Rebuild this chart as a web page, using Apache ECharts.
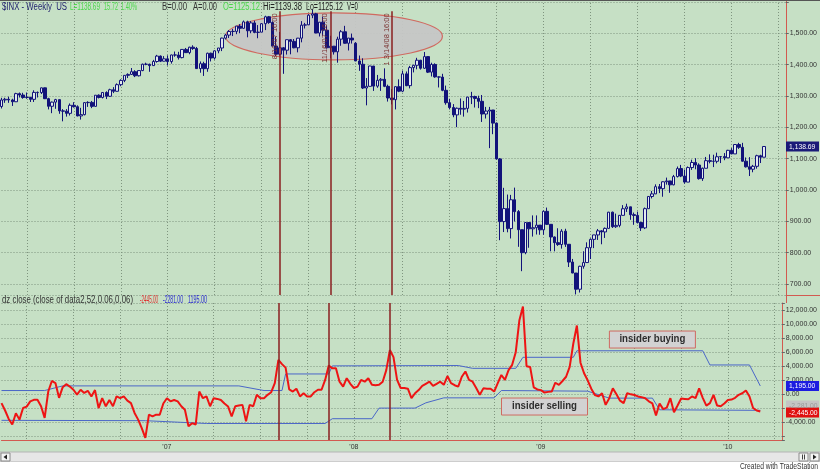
<!DOCTYPE html>
<html>
<head>
<meta charset="utf-8">
<title>$INX Weekly - insider dz</title>
<script src="https://cdn.jsdelivr.net/npm/echarts@6/dist/echarts.min.js"></script>
<style>
  html, body { margin: 0; padding: 0; background: #ffffff; }
  #chart { width: 820px; height: 471px; }
</style>
</head>
<body>
<div id="chart"></div>
<script>
// first bar = week ending 2006-02-17, one bar per week
const firstWeek = Date.UTC(2006, 1, 17);
const blankWeeks = 6; // empty room right of the last bar

// weekly bars, [open, close, low, high]
const bars2006 = [
  [1266.3,1287.2,1260.0,1294.0],[1287.2,1289.4,1278.0,1294.0],[1289.4,1287.2,1278.0,1297.6],[1287.2,1281.4,1268.0,1291.0],
  [1281.4,1307.3,1281.0,1310.0],[1307.3,1302.9,1295.0,1310.9],[1302.9,1294.9,1291.0,1310.0],[1294.9,1295.5,1291.0,1310.9],
  [1295.5,1289.1,1280.7,1297.0],[1289.1,1311.3,1280.7,1318.0],[1311.3,1310.6,1295.0,1314.0],[1310.6,1325.8,1306.0,1326.7],
  [1325.8,1291.2,1290.0,1326.7],[1291.2,1267.0,1257.0,1294.0],[1267.0,1280.2,1245.0,1282.0],[1280.2,1288.2,1259.0,1290.7],
  [1288.2,1252.3,1243.0,1288.0],[1252.3,1251.5,1219.0,1258.0],[1251.5,1244.5,1234.0,1258.0],[1244.5,1270.2,1237.6,1276.0],
  [1270.2,1265.5,1263.0,1280.0],[1265.5,1236.2,1235.0,1270.0],[1236.2,1240.3,1224.5,1262.0],[1240.3,1278.6,1238.0,1280.0],
  [1278.6,1279.4,1265.0,1283.0],[1279.4,1266.7,1261.0,1284.0],[1266.7,1302.3,1266.0,1302.3],[1302.3,1295.1,1292.0,1305.0],
  [1295.1,1311.0,1292.0,1312.0],[1311.0,1298.9,1290.0,1314.7],[1298.9,1319.7,1297.0,1323.0],[1319.7,1314.8,1309.0,1328.0],
  [1314.8,1335.9,1314.0,1340.0],[1335.9,1349.6,1331.0,1353.0],[1349.6,1365.6,1344.0,1366.0],[1365.6,1368.6,1357.0,1372.0],
  [1368.6,1377.3,1367.0,1389.0],[1377.3,1364.3,1360.0,1382.0],[1364.3,1380.9,1362.0,1381.0],[1380.9,1401.2,1379.0,1403.0],
  [1401.2,1400.9,1398.0,1406.0],[1400.9,1396.7,1377.0,1403.0],[1396.7,1409.8,1396.0,1415.0],[1409.8,1427.1,1406.0,1431.0],
  [1427.1,1410.8,1408.0,1429.0],[1410.8,1418.3,1410.0,1427.0]
];
const bars2007 = [
  [1418.3,1409.7,1397.0,1429.4],[1409.7,1430.7,1403.0,1431.6],[1430.7,1430.5,1425.0,1441.6],[1430.5,1422.2,1416.0,1440.7],
  [1422.2,1448.4,1420.0,1449.3],[1448.4,1438.1,1437.0,1453.0],[1438.1,1455.5,1433.0,1456.8],[1455.5,1451.2,1447.0,1461.6],
  [1451.2,1387.2,1386.0,1456.2],[1387.2,1402.8,1374.0,1410.0],[1402.8,1386.9,1363.8,1409.0],[1386.9,1436.1,1377.0,1438.0],
  [1436.1,1420.9,1410.0,1438.0],[1420.9,1443.8,1416.0,1445.4],[1443.8,1452.9,1436.0,1453.0],[1452.9,1484.4,1443.0,1485.8],
  [1484.4,1494.1,1480.0,1498.0],[1494.1,1505.6,1485.0,1510.0],[1505.6,1505.9,1491.0,1513.8],[1505.9,1522.8,1497.0,1522.8],
  [1522.8,1515.7,1500.0,1529.0],[1515.7,1536.3,1515.0,1540.6],[1536.3,1507.7,1487.0,1540.0],[1507.7,1532.9,1500.0,1538.7],
  [1532.9,1502.6,1500.0,1540.0],[1502.6,1503.4,1484.0,1526.0],[1503.4,1530.4,1503.0,1532.4],[1530.4,1552.5,1510.0,1555.9],
  [1552.5,1534.1,1530.0,1555.1],[1534.1,1458.9,1458.0,1538.0],[1458.9,1433.1,1427.0,1488.0],[1433.1,1453.6,1429.0,1503.9],
  [1453.6,1445.9,1370.6,1456.0],[1445.9,1479.4,1432.0,1480.0],[1479.4,1474.0,1432.8,1481.5],[1474.0,1453.6,1452.0,1481.5],
  [1453.6,1484.3,1439.0,1485.0],[1484.3,1525.8,1471.0,1538.7],[1525.8,1526.8,1515.0,1533.0],[1526.8,1557.6,1526.0,1561.0],
  [1557.6,1561.8,1548.0,1576.1],[1561.8,1500.6,1500.0,1565.0],[1500.6,1535.3,1489.6,1535.5],[1535.3,1509.7,1492.0,1552.8],
  [1509.7,1453.7,1451.0,1524.8],[1453.7,1458.7,1420.0,1492.0],[1458.7,1440.7,1432.0,1459.0],[1440.7,1481.1,1406.0,1488.9],
  [1481.1,1504.7,1460.0,1510.0],[1504.7,1468.0,1467.0,1523.6],[1468.0,1484.5,1445.0,1485.0],[1484.5,1478.5,1467.0,1498.9]
];
const bars2008 = [
  [1468.0,1411.6,1411.0,1471.8],[1411.6,1401.0,1380.0,1429.0],[1401.0,1325.2,1322.0,1420.0],[1325.2,1330.6,1270.0,1357.0],
  [1330.6,1395.4,1330.0,1396.0],[1395.4,1331.3,1316.0,1395.0],[1331.3,1350.0,1326.0,1367.0],[1350.0,1353.1,1316.0,1357.0],
  [1353.1,1330.6,1328.0,1388.0],[1330.6,1293.4,1282.0,1336.0],[1293.4,1288.1,1273.0,1321.7],[1288.1,1329.5,1257.0,1330.7],
  [1329.5,1315.2,1312.0,1353.0],[1315.2,1370.4,1312.0,1380.9],[1370.4,1332.8,1331.0,1378.0],[1332.8,1390.3,1324.0,1395.9],
  [1390.3,1397.8,1375.0,1399.0],[1397.8,1413.9,1385.0,1421.6],[1413.9,1388.3,1384.0,1415.0],[1388.3,1425.4,1386.0,1440.2],
  [1425.4,1375.9,1373.0,1426.0],[1375.9,1400.4,1362.0,1406.0],[1400.4,1360.7,1358.0,1404.0],[1360.7,1360.0,1327.0,1362.0],
  [1360.0,1317.9,1315.0,1370.6],[1317.9,1278.4,1272.0,1333.0],[1278.4,1262.9,1257.0,1291.0],[1262.9,1239.5,1232.0,1274.0],
  [1239.5,1260.7,1200.4,1263.0],[1260.7,1257.8,1240.0,1292.0],[1257.8,1260.3,1234.0,1284.0],[1260.3,1296.3,1247.0,1297.0],
  [1296.3,1298.2,1274.0,1313.0],[1298.2,1292.2,1263.0,1300.7],[1292.2,1282.8,1261.0,1300.7],[1282.8,1242.3,1217.0,1303.0],
  [1242.3,1251.7,1228.0,1265.0],[1251.7,1255.1,1133.5,1265.0],[1255.1,1213.3,1178.0,1255.0],[1213.3,1099.2,1097.0,1215.0],
  [1099.2,899.2,839.8,1102.0],[899.2,940.6,865.8,1006.9],[940.6,876.8,865.0,985.4],[876.8,968.8,845.3,984.4],
  [968.8,931.0,899.7,1007.5],[931.0,873.3,818.7,936.0],[873.3,800.0,741.0,873.3],[800.0,896.2,795.0,896.2],
  [896.2,876.1,815.7,896.2],[876.1,879.7,851.4,918.9],[879.7,887.9,857.9,918.9],[887.9,872.8,857.1,887.9]
];
const bars2009 = [
  [872.8,931.8,857.0,934.7],[931.8,890.4,888.3,943.9],[890.4,850.1,804.5,890.4],[850.1,832.0,804.3,851.6],
  [832.0,825.9,821.7,877.9],[825.9,868.6,812.9,875.0],[868.6,826.8,818.4,876.3],[826.8,770.1,754.3,826.8],
  [770.1,735.1,734.5,780.0],[735.1,683.4,666.8,735.1],[683.4,756.6,672.9,758.3],[756.6,768.5,749.0,804.5],
  [768.5,815.9,768.5,833.0],[815.9,842.5,779.8,845.6],[842.5,856.6,814.5,856.9],[856.6,869.6,840.6,875.6],
  [869.6,866.2,826.8,871.8],[866.2,877.5,847.0,880.4],[877.5,929.2,876.7,930.2],[929.2,882.9,878.9,931.0],
  [882.9,887.0,879.0,924.6],[887.0,919.1,881.0,920.0],[919.1,940.1,919.0,951.7],[940.1,946.2,930.0,956.2],
  [946.2,921.2,904.8,946.3],[921.2,918.9,888.9,928.0],[918.9,896.4,893.0,931.0],[896.4,879.1,869.3,898.7],
  [879.1,940.4,875.3,944.0],[940.4,979.3,940.0,979.8],[979.3,987.5,973.0,996.7],[987.5,1010.5,987.0,1018.0],
  [1010.5,1004.1,990.0,1019.0],[1004.1,1026.1,978.5,1027.6],[1026.1,1028.9,1017.0,1039.5],[1028.9,1016.4,991.0,1028.0],
  [1016.4,1042.7,1015.0,1048.0],[1042.7,1068.3,1040.0,1074.8],[1068.3,1044.4,1041.0,1080.0],[1044.4,1025.2,1020.0,1065.0],
  [1025.2,1071.5,1025.0,1075.0],[1071.5,1087.7,1064.0,1096.6],[1087.7,1079.6,1066.0,1101.4],[1079.6,1036.2,1033.0,1085.0],
  [1036.2,1069.3,1029.0,1071.5],[1069.3,1093.5,1069.0,1105.4],[1093.5,1091.4,1085.0,1113.7],[1091.4,1091.5,1073.0,1112.4],
  [1091.5,1106.0,1085.0,1119.1],[1106.0,1106.4,1085.9,1106.9],[1106.4,1102.5,1095.0,1117.7],[1102.5,1126.5,1102.0,1128.0],
  [1126.5,1115.1,1114.0,1133.5]
];
const bars2010 = [
  [1115.1,1145.0,1115.0,1145.4],[1145.0,1136.0,1131.0,1150.4],[1136.0,1091.8,1090.2,1150.4],[1091.8,1073.9,1071.6,1103.7],
  [1073.9,1066.2,1044.5,1104.7],[1066.2,1075.5,1056.5,1080.0],[1075.5,1109.2,1068.0,1112.4],[1109.2,1104.5,1086.0,1112.4],
  [1104.5,1138.69,1104.4,1139.4]
];

// dz close (close of data2,52,0.06,0.06), one value per week
const insiderDz = [
  -1250,-2300,-3500,-4300,-2700,-3600,-1950,-1750,-1000,-780,
  -780,-1700,-3350,400,1900,1600,-500,1000,1450,1100,
  650,-50,650,200,500,-300,600,-1950,-550,-1700,
  -800,-1700,-300,-550,-300,-900,-1250,-2650,-3600,-4800,
  -6200,-2900,-3150,-2900,-2900,-1300,-550,-1000,-800,-1000,
  -1700,-2200,-4550,-4100,-4300,400,-550,-300,-1700,-550,
  -650,-800,-1300,-1720,-3150,-1700,-1600,-1500,-3850,-1500,
  -1700,-70,-550,-550,-70,300,1600,4900,4300,3800,
  700,400,800,-300,150,-300,-300,300,650,650,
  2050,4100,3700,3700,1800,1100,2300,1500,900,1100,
  2050,1800,2300,1350,1300,1350,1800,3450,6300,5300,
  2050,900,900,800,-550,150,600,1200,1500,1800,
  1200,1500,1800,1350,2600,1600,1300,1100,2500,3250,
  2050,1800,900,-70,850,800,800,400,1600,2750,
  2050,3450,4200,6000,10500,12500,4000,3900,1000,700,
  600,250,350,400,1650,1350,1900,2500,3900,7200,
  9800,4500,3000,2000,800,-100,-300,150,-1500,-550,
  850,0,-900,-1250,170,0,-100,-300,-400,-550,
  -1000,-1300,-3000,-1300,-2100,-1900,-550,-2550,-1600,-600,
  -650,-700,-300,-550,850,-500,-1600,-1250,-70,-1600,
  -1700,-1300,-800,-750,-500,-70,150,550,-300,-1950,
  -2300,-2445
];
// the two bands, [week index, value] at each break
const upperBand = [
  [0,540],[12,540],[17,1200],[66,1200],[73,540],[78,540],[79,2900],[91,2900],[92,4050],
  [127,4100],[131,3700],[143,3700],[145,5270],[159,5270],[160,6200],[195,6200],[197,4180],
  [208,4180],[211,1195]
];
const lowerBand = [
  [0,-3700],[40,-3750],[57,-4150],[90,-4150],[92,-3470],[103,-3470],[105,-1960],[115,-1960],
  [118,-1210],[123,-500],[137,-500],[139,540],[163,450],[169,-540],[181,-540],[183,-2200],
  [211,-2281]
];

const yearTickIdx = [46, 98, 150, 202];
const yearTickText = ["'07", "'08", "'09", "'10"];
const quarterIdx = [7, 20, 33, 46, 59, 72, 85, 98, 111, 124, 137, 150, 163, 176, 189, 202, 215];
const signalIdx = [77, 91, 108];
const signalText = ['8/10/07 16:00', '11/16/07 16:00', '1 3/14/08 16:00'];

const weeks = [];
const priceBars = [].concat(bars2006, bars2007, bars2008, bars2009, bars2010);
for (let i = 0; i < priceBars.length + blankWeeks; i++) {
  weeks.push(new Date(firstWeek + i * 7 * 864e5).toISOString().slice(0, 10));
}

const FONT = 'Liberation Sans';
const GRID_GREEN = '#c6e0c5';
const AXIS_RED = '#d25a50';
const money = v => v.toLocaleString('en-US', { minimumFractionDigits: 2, maximumFractionDigits: 2 });
const dotted = { lineStyle: { type: [1, 2], color: '#7f957f', width: 1 } };

const chart = echarts.init(document.getElementById('chart'));

const option = {
  animation: false,
  backgroundColor: GRID_GREEN,
  grid: [
    { left: 1.5, right: 34, top: 0, height: 295 },
    { left: 1.5, right: 34, top: 303, height: 137 }
  ],
  xAxis: [
    {
      gridIndex: 0, type: 'category', data: weeks, boundaryGap: false,
      axisLine: { show: false }, axisTick: { show: false }, axisLabel: { show: false },
      splitLine: Object.assign({ show: true, interval: (i) => quarterIdx.includes(i) }, dotted)
    },
    {
      gridIndex: 1, type: 'category', data: weeks, boundaryGap: false,
      axisLine: { show: true, onZero: false, lineStyle: { color: AXIS_RED, width: 1 } },
      axisTick: { show: false },
      axisLabel: {
        interval: (i) => yearTickIdx.includes(i),
        formatter: (v, i) => yearTickText[yearTickIdx.indexOf(i)] || '',
        fontSize: 7, color: '#333', fontFamily: FONT, margin: 4
      },
      splitLine: Object.assign({ show: true, interval: (i) => quarterIdx.includes(i) }, dotted)
    }
  ],
  yAxis: [
    {
      gridIndex: 0, type: 'value', position: 'right', min: 665, max: 1606, splitNumber: 9,
      axisLine: { show: true, lineStyle: { color: AXIS_RED, width: 1 } },
      axisTick: { show: true, length: 3, lineStyle: { color: '#666' } },
      axisLabel: {
        fontSize: 7, color: '#333', fontFamily: FONT, margin: 4,
        formatter: v => (v % 100 === 0 && v >= 700 && v <= 1500) ? money(v) : ''
      },
      splitLine: Object.assign({ show: true }, dotted)
    },
    {
      gridIndex: 1, type: 'value', position: 'right', min: -6500, max: 13000, splitNumber: 10,
      axisLine: { show: true, lineStyle: { color: AXIS_RED, width: 1 } },
      axisTick: { show: true, length: 3, lineStyle: { color: '#666' } },
      axisLabel: {
        fontSize: 7, color: '#333', fontFamily: FONT, margin: 4,
        formatter: v => (v % 2000 === 0 && v >= -4000) ? money(v) : ''
      },
      splitLine: Object.assign({ show: true }, dotted)
    }
  ],
  series: [
    {
      name: '$INX', type: 'candlestick', xAxisIndex: 0, yAxisIndex: 0,
      data: priceBars, barWidth: 3,
      itemStyle: { color: '#e2eaee', color0: '#12127a', borderColor: '#12127a', borderColor0: '#12127a', borderWidth: 1 },
      markLine: {
        silent: true, symbol: 'none', label: { show: false },
        lineStyle: { color: '#8a1f1f', width: 1.5, type: 'solid' },
        data: signalIdx.map(i => [{ coord: [i, 1570] }, { coord: [i, 665] }])
      }
    },
    {
      name: 'upper', type: 'line', xAxisIndex: 1, yAxisIndex: 1, data: upperBand,
      showSymbol: false, lineStyle: { color: '#4a66c8', width: 1 }, z: 3
    },
    {
      name: 'lower', type: 'line', xAxisIndex: 1, yAxisIndex: 1, data: lowerBand,
      showSymbol: false, lineStyle: { color: '#4a66c8', width: 1 }, z: 3
    },
    {
      name: 'dz', type: 'line', xAxisIndex: 1, yAxisIndex: 1, data: insiderDz,
      showSymbol: false, lineStyle: { color: '#ee1414', width: 2 }, z: 4,
      markLine: {
        silent: true, symbol: 'none', label: { show: false },
        lineStyle: { color: '#8a1f1f', width: 1.5, type: 'solid' },
        data: signalIdx.map(i => ({ xAxis: i }))
      }
    }
  ]
};
chart.setOption(option);

// ---- overlays: header texts, ellipse, value boxes, notes, scrollbar ----
const pxTop = (i, v) => chart.convertToPixel({ gridIndex: 0 }, [i, v]);
const pxLow = (i, v) => chart.convertToPixel({ gridIndex: 1 }, [i, v]);

const measureCtx = document.createElement('canvas').getContext('2d');
function textWidth(text, fs, fw) {
  measureCtx.font = (fw || 'normal') + ' ' + fs + 'px "' + FONT + '"';
  return measureCtx.measureText(text).width;
}
function txt(x, y, text, fill, o) {
  o = o || {};
  return {
    type: 'text', x: x, y: y, z: 100, silent: true, rotation: o.rot || 0,
    scaleX: o.sx == null ? 1 : o.sx,
    style: {
      text: text, fill: fill, fontSize: o.fs || 9.5, fontFamily: FONT, fontWeight: o.fw || 'normal',
      align: o.align || 'left', verticalAlign: o.va || 'middle'
    }
  };
}
// text squeezed to run from x0 to x1, like the narrow screen font of the original
function fitTxt(x0, x1, y, text, fill, fs, fw) {
  const w = textWidth(text, fs, fw);
  return txt(x0, y, text, fill, { fs: fs, fw: fw, sx: Math.min(1, (x1 - x0) / w) });
}
function box(x, y, w, h, fill, stroke, z) {
  return { type: 'rect', z: z || 99, silent: true, shape: { x: x, y: y, width: w, height: h },
    style: { fill: fill, stroke: stroke || null, lineWidth: 1 } };
}

const g = [];
// top header
[
  ['$INX - Weekly  US', 2, 67, '#22226e'], ['L=1138.69', 70, 100, '#4cd64c'], ['15.72', 104, 118, '#4cd64c'],
  ['1.40%', 121, 137, '#4cd64c'], ['B=0.00', 162, 187, '#333'], ['A=0.00', 193, 217, '#333'],
  ['O=1125.12', 223, 260, '#4cd64c'], ['Hi=1139.38', 263, 302, '#222'], ['Lo=1125.12', 306, 343, '#222'],
  ['V=0', 347, 358, '#222']
].forEach(p => g.push(fitTxt(p[1], p[2], 7.5, p[0], p[3], 10)));
g.push({ type: 'line', z: 100, silent: true, shape: { x1: 0, y1: 0.5, x2: 820, y2: 0.5 }, style: { stroke: '#555', lineWidth: 1 } });

// lower pane header
const lastDz = insiderDz[insiderDz.length - 1];
const lastLow = lowerBand[lowerBand.length - 1][1];
const lastUp = upperBand[upperBand.length - 1][1];
g.push(fitTxt(2, 133, 300, 'dz close (close of data2,52,0.06,0.06)', '#333', 10));
g.push(fitTxt(140, 158, 300, lastDz.toFixed(2), '#e03030', 10));
g.push(fitTxt(163, 183, 300, lastLow.toFixed(2), '#2a2ad0', 10));
g.push(fitTxt(188, 207, 300, lastUp.toFixed(2), '#2a2ad0', 10));

// ellipse round the 2007 top
const eA = pxTop(62, 1565), eB = pxTop(122, 1415);
g.push({
  type: 'ellipse', z: 1, silent: true,
  shape: { cx: (eA[0] + eB[0]) / 2, cy: (eA[1] + eB[1]) / 2, rx: (eB[0] - eA[0]) / 2, ry: (eB[1] - eA[1]) / 2 },
  style: { fill: 'rgba(198,198,198,0.95)', stroke: '#d06a60', lineWidth: 1.2 }
});

// rotated date notes beside the signal lines
signalIdx.forEach((i, k) => {
  const p = pxTop(i, 1570);
  g.push(txt(p[0] - 1, p[1] + 2, signalText[k], '#7a3030', { rot: Math.PI / 2, align: 'right', va: 'bottom', fs: 7.5, sx: 1 }));
});

// right axis value boxes
const lastClose = priceBars[priceBars.length - 1][1];
const pc = pxTop(0, lastClose)[1];
g.push(box(786, pc - 5, 33, 10, '#1a1a78'));
g.push(txt(789, pc, money(lastClose), '#ffffff', { fs: 7.5, sx: 0.9 }));
const pu = pxLow(0, lastUp)[1];
g.push(box(786, pu - 5, 33, 10, '#1c1ce0'));
g.push(txt(789, pu, money(lastUp), '#ffffff', { fs: 7.5, sx: 0.9 }));
const pd = pxLow(0, lastDz)[1];
g.push(box(786, pd - 11, 33, 10, '#c4c4c4'));
g.push(txt(789, pd - 6, money(lastLow), '#9a9a9a', { fs: 7.5, sx: 0.9 }));
g.push(box(786, pd - 4, 33, 10, '#e01010'));
g.push(txt(789, pd + 1, money(lastDz), '#ffffff', { fs: 7.5, sx: 0.9 }));

// note boxes
const nb = pxLow(181, 7800), ns = pxLow(151, -1735);
g.push(box(nb[0] - 43, nb[1] - 8.5, 86, 17, '#d2d2d2', '#cf6a62'));
g.push(txt(nb[0], nb[1], 'insider buying', '#2e2e2e', { fw: 'bold', fs: 10.5, sx: 0.92, align: 'center' }));
g.push(box(ns[0] - 43, ns[1] - 8.5, 86, 17, '#d2d2d2', '#cf6a62'));
g.push(txt(ns[0], ns[1], 'insider selling', '#2e2e2e', { fw: 'bold', fs: 10.5, sx: 0.92, align: 'center' }));

// pane joint on the price scale
g.push({ type: 'line', z: 100, silent: true, shape: { x1: 786, y1: 295.5, x2: 820, y2: 295.5 }, style: { stroke: AXIS_RED, lineWidth: 1 } });
g.push({ type: 'line', z: 100, silent: true, shape: { x1: 786.5, y1: 295, x2: 786.5, y2: 303 }, style: { stroke: AXIS_RED, lineWidth: 1 } });

// scrollbar and footer
g.push(box(0, 452, 820, 10, '#e6e6e6', '#b4b4b4', 90));
g.push(box(0, 462, 820, 9, '#ffffff', null, 90));
g.push(box(1, 453, 9, 8, '#f4f4f4', '#8a8a8a'));
g.push({ type: 'polygon', z: 101, silent: true, shape: { points: [[7, 454.5], [7, 459.5], [3.5, 457]] }, style: { fill: '#222' } });
g.push(box(799, 453, 9, 8, '#f4f4f4', '#8a8a8a'));
g.push({ type: 'line', z: 101, silent: true, shape: { x1: 802.5, y1: 454.5, x2: 802.5, y2: 459.5 }, style: { stroke: '#444' } });
g.push({ type: 'line', z: 101, silent: true, shape: { x1: 804.5, y1: 454.5, x2: 804.5, y2: 459.5 }, style: { stroke: '#444' } });
g.push(box(810, 453, 9, 8, '#f4f4f4', '#8a8a8a'));
g.push({ type: 'polygon', z: 101, silent: true, shape: { points: [[813, 454.5], [813, 459.5], [816.5, 457]] }, style: { fill: '#222' } });
g.push(fitTxt(740, 818, 467, 'Created with TradeStation', '#333', 8.5));

chart.setOption({ graphic: g });
</script>
</body>
</html>
